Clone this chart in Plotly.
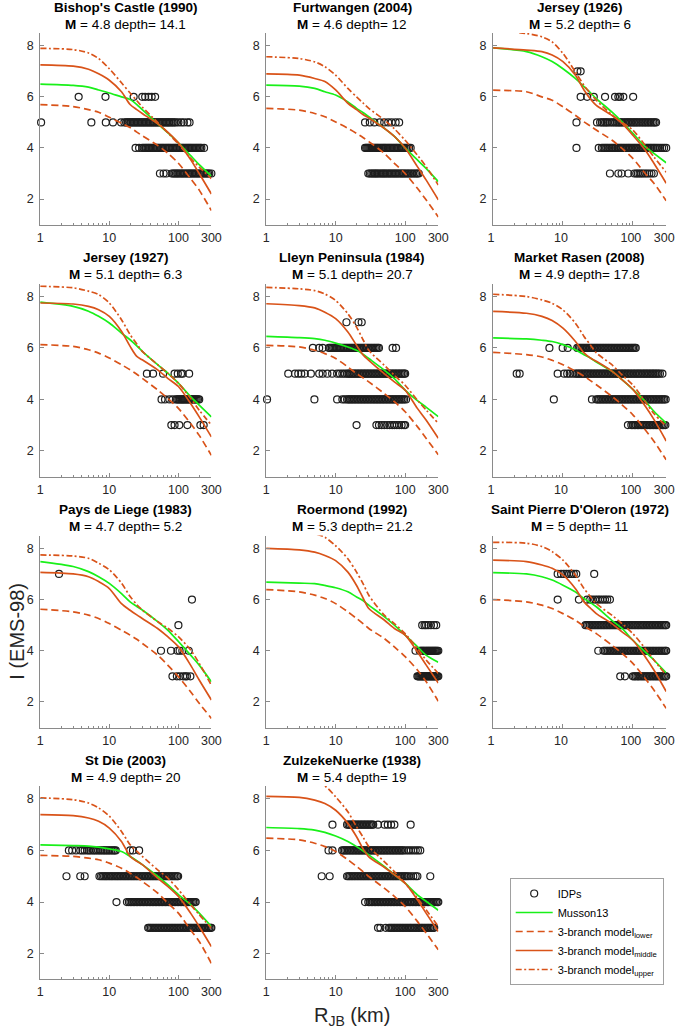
import math
import plotly.graph_objects as go

W, H = 685, 1032

# ---------------- data ----------------
R_GRID = [1, 3, 5, 7, 10, 15, 20, 25, 30, 50, 70, 100, 150, 200, 300]

TITLES = ["Bishop's Castle (1990)", "Furtwangen (2004)", "Jersey (1926)",
          "Jersey (1927)", "Lleyn Peninsula (1984)", "Market Rasen (2008)",
          "Pays de Liege (1983)", "Roermond (1992)", "Saint Pierre D'Oleron (1972)",
          "St Die (2003)", "ZulzekeNuerke (1938)"]
MAGS = ["4.8", "4.6", "5.2", "5.1", "5.1", "4.9", "4.7", "5.3", "5", "4.9", "5.4"]
DEPTHS = ["14.1", "12", "6", "6.3", "20.7", "17.8", "5.2", "21.2", "11", "20", "19"]

musson_1 = [6.5, 6.45, 6.38, 6.27, 6.15, 6.0, 5.9, 5.7, 5.5, 4.95, 4.6, 4.2, 3.7, 3.35, 2.9]
lower_1 = [5.7, 5.62, 5.5, 5.4, 5.2, 4.97, 4.8, 4.62, 4.48, 4.1, 3.8, 3.4, 2.8, 2.35, 1.55]
middle_1 = [7.25, 7.2, 7.08, 6.9, 6.65, 6.2, 5.7, 5.5, 5.35, 4.95, 4.62, 4.2, 3.55, 3.0, 2.2]
upper_1 = [7.9, 7.85, 7.72, 7.5, 7.1, 6.55, 6.15, 5.85, 5.6, 5.0, 4.6, 4.15, 3.6, 3.25, 2.8]

musson_2 = [6.46, 6.42, 6.33, 6.2, 6.07, 5.8, 5.55, 5.38, 5.22, 4.77, 4.45, 4.0, 3.53, 3.2, 2.68]
lower_2 = [5.55, 5.48, 5.35, 5.22, 5.02, 4.77, 4.57, 4.4, 4.25, 3.79, 3.4, 3.0, 2.42, 1.97, 1.3]
middle_2 = [6.9, 6.85, 6.72, 6.6, 6.27, 5.75, 5.5, 5.3, 5.17, 4.77, 4.45, 4.0, 3.27, 2.75, 1.97]
upper_2 = [7.57, 7.5, 7.37, 7.18, 6.85, 6.33, 6.0, 5.75, 5.55, 5.1, 4.75, 4.3, 3.72, 3.27, 2.55]

musson_3 = [7.92, 7.77, 7.57, 7.38, 7.1, 6.72, 6.4, 6.15, 5.93, 5.41, 5.02, 4.57, 4.05, 3.79, 3.42]
lower_3 = [6.26, 6.2, 6.0, 5.87, 5.61, 5.28, 5.02, 4.85, 4.7, 4.31, 3.98, 3.59, 3.0, 2.62, 1.93]
middle_3 = [7.92, 7.83, 7.77, 7.64, 7.38, 6.86, 6.27, 5.9, 5.67, 5.28, 4.96, 4.5, 3.92, 3.4, 2.62]
upper_3 = [8.62, 8.48, 8.35, 8.15, 7.7, 6.98, 6.45, 6.12, 5.87, 5.3, 5.0, 4.7, 4.1, 3.65, 3.05]

musson_4 = [7.78, 7.62, 7.43, 7.23, 6.97, 6.58, 6.32, 6.08, 5.87, 5.35, 5.02, 4.63, 4.11, 3.78, 3.32]
lower_4 = [6.13, 6.06, 5.93, 5.8, 5.61, 5.35, 5.15, 4.98, 4.82, 4.37, 4.04, 3.65, 3.06, 2.6, 1.82]
middle_4 = [7.75, 7.71, 7.62, 7.49, 7.23, 6.65, 6.06, 5.67, 5.54, 5.15, 4.82, 4.5, 3.84, 3.32, 2.54]
upper_4 = [8.4, 8.34, 8.21, 8.08, 7.75, 7.1, 6.52, 6.15, 5.87, 5.35, 5.02, 4.63, 4.04, 3.58, 3.0]

musson_5 = [6.45, 6.4, 6.36, 6.3, 6.19, 6.04, 5.91, 5.75, 5.59, 5.14, 4.81, 4.36, 3.95, 3.7, 3.33]
lower_5 = [6.1, 6.04, 5.91, 5.78, 5.59, 5.26, 5.0, 4.83, 4.68, 4.23, 3.91, 3.52, 2.94, 2.49, 1.85]
middle_5 = [7.72, 7.65, 7.56, 7.39, 7.14, 6.62, 6.1, 5.72, 5.52, 5.0, 4.68, 4.36, 3.65, 3.2, 2.49]
upper_5 = [8.36, 8.3, 8.23, 8.1, 7.85, 7.33, 6.81, 6.3, 5.91, 5.33, 4.94, 4.55, 3.97, 3.59, 3.07]

musson_6 = [6.39, 6.35, 6.3, 6.25, 6.13, 5.93, 5.74, 5.6, 5.45, 5.1, 4.77, 4.39, 3.93, 3.54, 3.08]
lower_6 = [5.83, 5.74, 5.65, 5.52, 5.35, 5.1, 4.9, 4.72, 4.57, 4.12, 3.79, 3.4, 2.82, 2.37, 1.65]
middle_6 = [7.42, 7.35, 7.23, 7.07, 6.77, 6.26, 5.81, 5.6, 5.48, 5.1, 4.77, 4.39, 3.74, 3.22, 2.38]
upper_6 = [8.09, 8.0, 7.87, 7.74, 7.48, 6.97, 6.45, 6.1, 5.81, 5.35, 4.95, 4.56, 3.91, 3.45, 2.95]

musson_7 = [7.48, 7.29, 7.09, 6.89, 6.63, 6.23, 5.91, 5.73, 5.59, 5.14, 4.81, 4.36, 3.83, 3.44, 2.79]
lower_7 = [5.62, 5.52, 5.39, 5.26, 5.06, 4.8, 4.61, 4.45, 4.29, 3.83, 3.44, 2.99, 2.4, 1.95, 1.36]
middle_7 = [7.06, 7.0, 6.89, 6.7, 6.43, 5.84, 5.58, 5.4, 5.26, 4.87, 4.55, 4.16, 3.44, 2.86, 2.08]
upper_7 = [7.74, 7.7, 7.61, 7.42, 7.16, 6.64, 6.12, 5.8, 5.59, 5.14, 4.88, 4.55, 4.03, 3.51, 2.65]

musson_8 = [6.68, 6.64, 6.62, 6.55, 6.46, 6.3, 6.1, 5.95, 5.78, 5.33, 5.0, 4.61, 4.16, 3.83, 3.55]
lower_8 = [6.39, 6.3, 6.17, 6.04, 5.84, 5.52, 5.26, 5.05, 4.87, 4.48, 4.15, 3.77, 3.25, 2.8, 2.03]
middle_8 = [8.0, 7.94, 7.85, 7.72, 7.52, 7.07, 6.55, 6.04, 5.65, 5.2, 4.87, 4.61, 3.96, 3.45, 2.74]
upper_8 = [8.9, 8.78, 8.58, 8.43, 8.1, 7.59, 7.07, 6.6, 6.17, 5.39, 5.06, 4.67, 4.09, 3.64, 3.12]

musson_9 = [7.05, 7.0, 6.89, 6.76, 6.56, 6.3, 6.04, 5.87, 5.72, 5.19, 4.87, 4.41, 3.96, 3.64, 3.14]
lower_9 = [6.0, 5.91, 5.78, 5.65, 5.45, 5.19, 4.96, 4.8, 4.67, 4.22, 3.9, 3.51, 2.92, 2.47, 1.75]
middle_9 = [7.54, 7.48, 7.35, 7.22, 6.96, 6.43, 5.91, 5.65, 5.45, 5.06, 4.74, 4.41, 3.77, 3.25, 2.41]
upper_9 = [8.23, 8.2, 8.07, 7.87, 7.54, 6.96, 6.43, 6.1, 5.84, 5.39, 5.06, 4.67, 4.09, 3.64, 3.05]

musson_10 = [6.22, 6.19, 6.17, 6.13, 6.06, 5.96, 5.77, 5.6, 5.45, 5.0, 4.67, 4.29, 3.9, 3.57, 3.05]
lower_10 = [5.81, 5.77, 5.7, 5.64, 5.51, 5.31, 5.12, 4.95, 4.8, 4.35, 3.96, 3.57, 2.92, 2.47, 1.62]
middle_10 = [7.39, 7.35, 7.26, 7.13, 6.87, 6.35, 5.77, 5.58, 5.45, 4.93, 4.61, 4.22, 3.57, 3.05, 2.27]
upper_10 = [8.04, 7.97, 7.84, 7.65, 7.33, 6.74, 6.22, 5.97, 5.77, 5.25, 4.93, 4.48, 3.9, 3.51, 2.99]

musson_11 = [6.89, 6.85, 6.79, 6.7, 6.56, 6.35, 6.15, 5.98, 5.83, 5.38, 5.06, 4.73, 4.28, 4.03, 3.68]
lower_11 = [6.48, 6.41, 6.28, 6.15, 5.96, 5.64, 5.38, 5.17, 4.99, 4.54, 4.22, 3.83, 3.25, 2.8, 2.15]
middle_11 = [8.1, 8.06, 7.95, 7.82, 7.56, 7.05, 6.53, 6.05, 5.75, 5.35, 5.06, 4.73, 4.09, 3.57, 2.86]
upper_11 = [9.0, 8.8, 8.65, 8.5, 8.08, 7.5, 6.92, 6.5, 6.15, 5.57, 5.18, 4.73, 4.15, 3.7, 3.06]

# IDPs: (intensity, [R_JB distances in km])
idp_1 = [
    (6, [3.6, 8.8, 22.5, 30, 33, 37, 41, 46]),
    (5, [1.03, 5.5, 8.9, 11.3, 14.8, 16.5, 17.5, 18.3, 19.1, 20, 20.9, 21.8, 22.8, 23.8, 24.9, 26,
         27.2, 28.4, 29.7, 31, 32.4, 33.9, 35.4, 37, 38.7, 40.4, 42.2, 44.1, 46.1, 48.2, 50.4, 52.7,
         55, 57.5, 60, 63, 66, 69, 72, 75, 79, 83, 87, 92, 100, 110, 120, 135, 145]),
    (4, [24, 27, 30, 31.5, 33, 34.5, 36, 37.5, 39, 41, 43, 45, 47, 49, 51, 53.5, 56, 58.5, 61, 64,
         67, 70, 73, 76, 80, 84, 88, 92, 96, 100, 105, 110, 115, 120, 126, 132, 138, 144, 150, 157,
         164, 172, 180, 188, 197, 206, 215, 235]),
    (3, [54, 61, 67, 80, 84, 88, 92, 96, 100, 105, 110, 115, 120, 126, 132, 138, 144, 150, 157, 164,
         172, 180, 188, 197, 206, 215, 225, 235, 246, 257, 269, 280, 300]),
]
idp_2 = [
    (5, [26.5, 31, 36, 43, 50, 57, 64, 73, 82]),
    (4, [26.5, 27.5, 28.5, 29.5, 30.5, 31.5, 32.5, 33.5, 35, 36.5, 38, 39.5, 41, 43, 45, 47, 49, 51,
         53, 55.5, 58, 60.5, 63, 66, 69, 72, 75, 78, 82, 86, 90, 94, 98, 103, 108, 114, 120]),
    (3, [29.5, 31, 32.5, 34, 35.5, 37, 38.5, 40, 42, 44, 46, 48, 50, 52, 54.5, 57, 59.5, 62, 65, 68,
         71, 74, 77.5, 81, 85, 89, 93, 97, 102, 107, 112, 118, 124, 130, 137, 144, 150, 157]),
]
idp_3 = [
    (7, [16.1, 17.9]),
    (6, [17.9, 22.2, 27.6, 40, 55.6, 62, 65.5, 73, 101]),
    (5, [15.6, 30.7, 34, 36, 38, 40, 42, 44, 47, 50, 53, 56, 59, 62, 65, 68, 72, 76, 80, 84, 88, 92,
         97, 102, 107, 112, 118, 124, 131, 138, 145, 152, 160, 168, 177, 186, 196, 206, 215]),
    (4, [15.6, 32.5, 36, 38, 40, 42, 44, 46.5, 49, 51.5, 54, 57, 60, 63, 66, 69, 72.5, 76, 80, 84,
         88, 92, 97, 102, 107, 112, 118, 124, 131, 138, 145, 152, 160, 168, 177, 186, 196, 206, 217,
         230, 245, 262, 280, 300]),
    (3, [47, 62, 69, 86, 105, 112, 118, 125, 132, 140, 150, 160, 172, 185, 200]),
]
idp_4 = [
    (5, [35, 43, 60, 88, 98, 109, 115, 143]),
    (4, [57, 64, 74, 83, 92, 96, 100, 104, 108, 112, 116, 120, 125, 130, 135, 140, 146, 152, 158,
         164, 170, 177, 184, 192, 200]),
    (3, [79, 88, 103, 135, 208, 232]),
]
idp_5 = [
    (7, [14.3, 21.3, 23.7]),
    (6, [4.7, 5.8, 6.5, 8, 8.4, 8.8, 9.2, 9.6, 10, 10.5, 11, 11.5, 12, 12.6, 13.2, 13.8, 14.5, 15.2,
         16, 16.8, 17.6, 18.5, 19.4, 20.4, 21.4, 22.5, 23.6, 24.8, 26, 27.3, 28.7, 30.1, 31.6, 33.2,
         34.9, 36.6, 38.4, 40.3, 42, 66, 74]),
    (5, [2.08, 2.6, 2.9, 3.2, 3.6, 4.4, 5.8, 6.5, 7.6, 8.9, 10.5, 11.5, 12.5, 13.5, 14.6, 15.3, 16,
         16.8, 17.6, 18.5, 19.4, 20.4, 21.4, 22.5, 23.6, 24.8, 26, 27.3, 28.7, 30.1, 31.6, 33.2, 34.9,
         36.6, 38.4, 40.3, 42.3, 44.4, 46.6, 48.9, 51.3, 53.9, 56.6, 59.4, 62.4, 65.5, 68.8, 72.2,
         75.8, 79.6, 83.6, 87.8, 92.2, 96.8, 100]),
    (4, [1.03, 4.95, 10.5, 12.5, 13.5, 14.6, 15.3, 16, 16.8, 17.6, 18.5, 19.4, 20.4, 21.4, 22.5,
         23.6, 24.8, 26, 27.3, 28.7, 30.1, 31.6, 33.2, 34.9, 36.6, 38.4, 40.3, 42.3, 44.4, 46.6,
         48.9, 51.3, 53.9, 56.6, 59.4, 62.4, 65.5, 68.8, 72.2, 75.8, 79.6, 83.6, 87.8, 92.2, 96.8,
         103]),
    (3, [20, 38.6, 42, 46, 50, 55, 60, 65, 70, 76, 82, 89, 96, 100]),
]
idp_6 = [
    (6, [6.4, 9.9, 11.7, 16, 16.8, 17.6, 18.5, 19.4, 20.4, 21.4, 22.5, 23.6, 24.8, 26, 27.3, 28.7,
         30.1, 31.6, 33.2, 34.9, 36.6, 38.4, 40.3, 42.3, 44.4, 46.6, 48.9, 51.3, 53.9, 56.6, 59.4,
         62.4, 65.5, 68.8, 72.2, 75.8, 79.6, 83.6, 87.8, 92.2, 96.8, 101, 106, 110]),
    (5, [2.18, 2.4, 8.4, 10.4, 11.5, 12.5, 13.7, 15, 15.8, 16.6, 17.4, 18.3, 19.2, 20.2, 21.2, 22.2,
         23.3, 24.5, 25.7, 27, 28.4, 29.8, 31.3, 32.8, 34.5, 36.2, 38, 39.9, 41.9, 44, 46.2, 48.5,
         50.9, 53.5, 56.1, 58.9, 61.9, 65, 68.2, 71.6, 75.2, 79, 82.9, 87.1, 91.4, 96, 101, 106,
         111, 117, 122, 128, 135, 142, 149, 156, 164, 172, 181, 190, 199, 209, 220, 231, 244, 265]),
    (4, [7.4, 26, 30, 31.5, 33, 34.6, 36.3, 38.1, 40, 42, 44.1, 46.3, 48.6, 51, 53.6, 56.3, 59.1,
         62.1, 65.2, 68.4, 71.8, 75.4, 79.2, 83.2, 87.3, 91.7, 96.3, 101, 106, 111, 117, 123, 129,
         135, 142, 149, 157, 164, 173, 181, 190, 200, 210, 220, 231, 243, 255, 268, 281, 295]),
    (3, [85, 95, 100, 105, 110, 116, 121, 127, 134, 140, 147, 155, 162, 171, 179, 188, 198, 208,
         218, 229, 240, 252, 265, 278, 292]),
]
idp_7 = [
    (7, [1.87]),
    (6, [157]),
    (5, [100]),
    (4, [56, 78, 97, 104, 114, 141]),
    (3, [82, 95, 105, 117, 126, 133, 149]),
]
idp_8 = [
    (5, [176, 190, 200, 215, 235, 260, 280]),
    (4, [141, 162, 167, 172, 177, 182, 187, 193, 199, 205, 211, 217, 223, 230, 237, 244, 251, 258,
         266, 273, 281, 290, 300]),
    (3, [150, 155, 160, 165, 170, 175, 180, 185, 191, 196, 202, 208, 214, 220, 227, 233, 240, 247,
         254, 261, 269, 277, 285, 292, 300]),
]
idp_9 = [
    (7, [8.4, 9.4, 10.3, 11.2, 12.2, 13.2, 14.3, 15.5, 28]),
    (6, [8.4, 16.9, 22.2, 24.5, 26.5, 29, 31.5, 34, 37, 40, 43, 47]),
    (5, [21, 22, 23.1, 24.3, 25.5, 26.8, 28.1, 29.5, 31, 32.5, 34.2, 35.9, 37.7, 39.5, 41.5, 43.6,
         45.8, 48, 50.4, 53, 55.6, 58.4, 61.3, 64.4, 67.6, 71, 74.5, 78.3, 82.2, 86.3, 90.6, 95.1,
         99.9, 105, 110, 116, 121, 127, 134, 140, 147, 155, 163, 171, 179, 188, 198, 208, 218, 229,
         240, 252, 265, 278, 292, 300]),
    (4, [32, 38, 39.9, 41.9, 44, 46.2, 48.5, 50.9, 53.5, 56.1, 58.9, 61.9, 65, 68.2, 71.6, 75.2, 79,
         82.9, 87.1, 91.4, 96, 101, 106, 111, 117, 122, 128, 135, 142, 149, 156, 164, 172, 181, 190,
         199, 209, 220, 231, 242, 254, 267, 280, 294, 300]),
    (3, [66, 77, 100, 105, 110, 116, 121, 127, 134, 140, 147, 155, 162, 171, 179, 188, 198, 208, 218,
         229, 240, 252, 265, 278, 292, 300]),
]
idp_10 = [
    (6, [2.6, 2.9, 3.3, 3.8, 4.1, 4.4, 4.8, 5.1, 5.4, 5.8, 6.1, 6.5, 6.9, 7.3, 7.7, 8.2, 8.6, 9.1,
         9.6, 10.1, 10.7, 11.3, 11.9, 12.4, 20, 22, 27]),
    (5, [2.4, 3.8, 4.4, 7.2, 7.6, 8, 8.4, 8.8, 9.2, 9.7, 10.2, 10.7, 11.2, 11.8, 12.4, 13, 13.6,
         14.3, 15, 15.8, 16.6, 17.4, 18.3, 19.2, 20.2, 21.2, 22.2, 23.3, 24.5, 25.7, 27, 28.4, 29.8,
         31.3, 32.8, 34.5, 36.2, 38, 39.9, 41.9, 44, 46.2, 48.5, 50.9, 53.5, 56.1, 58.9, 61.9, 65,
         68.2, 71.6, 75.2, 79, 82.9, 87.1, 91.4, 96, 99]),
    (4, [12.7, 18, 19.2, 20.2, 21.2, 22.2, 23.3, 24.5, 25.7, 27, 28.4, 29.8, 31.3, 32.8, 34.5, 36.2,
         38, 39.9, 41.9, 44, 46.2, 48.5, 50.9, 53.5, 56.1, 58.9, 61.9, 65, 68.2, 71.6, 75.2, 79,
         82.9, 87.1, 91.4, 96, 101, 106, 111, 117, 122, 128, 135, 142, 149, 156, 164, 172, 178]),
    (3, [36.5, 38, 39.9, 41.9, 44, 46.2, 48.5, 50.9, 53.5, 56.1, 58.9, 61.9, 65, 68.2, 71.6, 75.2,
         79, 82.9, 87.1, 91.4, 96, 101, 106, 111, 117, 122, 128, 135, 142, 149, 156, 164, 172, 181,
         190, 199, 209, 220, 231, 242, 254, 267, 280, 294, 300]),
]
idp_11 = [
    (7, [9, 14.6, 15.3, 16, 16.8, 17.6, 18.5, 19.4, 20.4, 21.4, 22.5, 23.6, 24.8, 26, 27.3, 28.7,
         30.1, 31.6, 33.2, 34.7, 40.7, 50.6, 56.3, 62.8, 70, 120]),
    (6, [7.9, 9, 12.4, 13, 13.6, 14.3, 15, 15.8, 16.6, 17.4, 18.3, 19.2, 20.2, 21.2, 22.2, 23.3,
         24.5, 25.7, 27, 28.4, 29.8, 31.3, 32.8, 34.5, 36.2, 38, 39.9, 41.9, 44, 46.2, 48.5, 50.9,
         53.5, 56.1, 58.9, 61.9, 65, 68.2, 71.6, 75.2, 79, 82.9, 87.1, 91.4, 96, 104, 112, 121, 131,
         142, 153, 165]),
    (5, [6.3, 8.2, 14.6, 15.3, 16, 16.8, 17.6, 18.5, 19.4, 20.4, 21.4, 22.5, 23.6, 24.8, 26, 27.3,
         28.7, 30.1, 31.6, 33.2, 34.9, 36.6, 38.4, 40.3, 42.3, 44.4, 46.6, 48.9, 51.3, 53.9, 56.6,
         59.4, 62.4, 65.5, 68.8, 72.2, 75.8, 79.6, 83.6, 87.8, 92.2, 96.8, 101, 106, 112, 121, 131,
         142, 150, 230]),
    (4, [26.5, 29.5, 31, 32.5, 34.2, 35.9, 37.7, 39.5, 41.5, 43.6, 45.8, 48, 50.4, 53, 55.6, 58.4,
         61.3, 64.4, 67.6, 71, 74.5, 78.3, 82.2, 86.3, 90.6, 95.1, 99.9, 105, 110, 116, 121, 127,
         134, 140, 147, 155, 163, 171, 179, 188, 198, 208, 218, 229, 240, 252, 265, 278, 292, 300]),
    (3, [40.7, 44, 52.6, 58.5, 61.3, 64.4, 67.6, 71, 74.5, 78.3, 82.2, 86.3, 90.6, 95.1, 99.9, 105,
         110, 116, 121, 127, 134, 140, 147, 155, 163, 171, 179, 188, 198, 208, 218, 229, 240, 252,
         262]),
]

MUSSON = [musson_1, musson_2, musson_3, musson_4, musson_5, musson_6, musson_7, musson_8,
          musson_9, musson_10, musson_11]
LOWER = [lower_1, lower_2, lower_3, lower_4, lower_5, lower_6, lower_7, lower_8, lower_9,
         lower_10, lower_11]
MIDDLE = [middle_1, middle_2, middle_3, middle_4, middle_5, middle_6, middle_7, middle_8,
          middle_9, middle_10, middle_11]
UPPER = [upper_1, upper_2, upper_3, upper_4, upper_5, upper_6, upper_7, upper_8, upper_9,
         upper_10, upper_11]
IDPS = [idp_1, idp_2, idp_3, idp_4, idp_5, idp_6, idp_7, idp_8, idp_9, idp_10, idp_11]

X_TICKS = [1, 10, 100, 300]
X_MINOR = [2, 3, 4, 5, 6, 7, 8, 9, 20, 30, 40, 50, 60, 70, 80, 90, 200]
Y_TICKS = [2, 4, 6, 8]

# ---------------- style / geometry ----------------
FONT = "Liberation Sans, Arial, Helvetica, sans-serif"
GREEN = "#19f019"
ORANGE = "#D95319"
AXIS_COLOR = "#8a8a8a"
TICK_FONT_COLOR = "#262626"

COLS_PX = [(36, 211), (267, 443), (499, 676)]
ROWS_PX = [(33, 224.6), (283.7, 476.5), (535.5, 727.6), (786, 979.4)]

fig = go.Figure()
layout = {}

for i in range(11):
    r, c = divmod(i, 3)
    sfx = "" if i == 0 else str(i + 1)
    xref, yref = "x" + sfx, "y" + sfx
    first = (i == 0)

    xs, ys = [], []
    for inten, dists in IDPS[i]:
        for d in dists:
            xs.append(d)
            ys.append(inten)
    fig.add_trace(go.Scatter(
        x=xs, y=ys, mode="markers", name="IDPs", legendgroup="idp", showlegend=first,
        marker=dict(symbol="circle-open", size=7, color="#1e1e1e", line=dict(width=1.2)),
        cliponaxis=False, xaxis=xref, yaxis=yref))
    specs = [
        (MUSSON[i], "Musson13", GREEN, "solid", "mus"),
        (LOWER[i], "3-branch model<sub>lower</sub>", ORANGE, "7px,4px", "low"),
        (MIDDLE[i], "3-branch model<sub>middle</sub>", ORANGE, "solid", "mid"),
        (UPPER[i], "3-branch model<sub>upper</sub>", ORANGE, "6px,2.5px,2px,2.5px", "up"),
    ]
    for vals, name, col, dash, grp in specs:
        fig.add_trace(go.Scatter(
            x=R_GRID, y=vals, mode="lines", name=name, legendgroup=grp, showlegend=first,
            line=dict(color=col, width=1.7, dash=dash, shape="spline", smoothing=0.8),
            xaxis=xref, yaxis=yref))

    x0, x1 = COLS_PX[c]
    y0, y1 = ROWS_PX[r]
    layout["xaxis" + sfx] = dict(
        type="log", range=[0, math.log10(300)], domain=[x0 / W, x1 / W], anchor=yref,
        tickmode="array", tickvals=X_TICKS, ticktext=[str(v) for v in X_TICKS],
        ticks="inside", ticklen=4, tickcolor=AXIS_COLOR, showline=True, linecolor=AXIS_COLOR,
        linewidth=1, showgrid=False, zeroline=False,
        minor=dict(tickmode="array", tickvals=X_MINOR, ticks="inside", ticklen=2,
                   tickcolor=AXIS_COLOR, showgrid=False),
        tickfont=dict(family=FONT, size=12.5, color=TICK_FONT_COLOR),
        ticklabelstandoff=1, ticklabelshift=(-2 if c == 2 else 0))
    layout["yaxis" + sfx] = dict(
        range=[1, 8.5], domain=[1 - y1 / H, 1 - y0 / H], anchor=xref,
        tickmode="array", tickvals=Y_TICKS, ticks="inside", ticklen=4, tickcolor=AXIS_COLOR,
        showline=True, linecolor=AXIS_COLOR, linewidth=1, showgrid=False, zeroline=False,
        tickfont=dict(family=FONT, size=12.5, color=TICK_FONT_COLOR),
        ticklabelstandoff=3)

annotations = []
for i in range(11):
    r, c = divmod(i, 3)
    cx = (COLS_PX[c][0] + COLS_PX[c][1]) / 2 / W
    top = ROWS_PX[r][0]
    annotations.append(dict(
        x=cx, y=1 - (top - 26) / H, xref="paper", yref="paper", showarrow=False,
        xanchor="center", yanchor="middle", text="<b>" + TITLES[i] + "</b>",
        font=dict(family=FONT, size=13.5, color="#000000")))
    annotations.append(dict(
        x=cx, y=1 - (top - 9) / H, xref="paper", yref="paper", showarrow=False,
        xanchor="center", yanchor="middle",
        text="<b>M</b> = " + MAGS[i] + " depth= " + DEPTHS[i],
        font=dict(family=FONT, size=13.5, color="#000000")))

annotations.append(dict(
    x=12 / W, y=1 - 631 / H, xref="paper", yref="paper", showarrow=False,
    xanchor="center", yanchor="middle", textangle=-90, text="I (EMS-98)",
    font=dict(family=FONT, size=20, color=TICK_FONT_COLOR)))
annotations.append(dict(
    x=355 / W, y=1 - 1031 / H, xref="paper", yref="paper", showarrow=False,
    xanchor="center", yanchor="bottom", text="R<sub>JB</sub> (km)",
    font=dict(family=FONT, size=20, color=TICK_FONT_COLOR)))

fig.update_layout(
    width=W, height=H, autosize=False,
    margin=dict(l=0, r=0, t=0, b=0),
    paper_bgcolor="white", plot_bgcolor="white",
    font=dict(family=FONT, color=TICK_FONT_COLOR),
    annotations=annotations,
    legend=dict(x=516 / W, y=1 - 878 / H, xanchor="left", yanchor="top",
                bgcolor="white", bordercolor="#a0a0a0", borderwidth=1,
                font=dict(family=FONT, size=11, color="#000000"),
                itemwidth=37, tracegroupgap=0),
    **layout)

# remove the browser's default 8px page margin so the figure sits at (0, 0)
fig.write_html("out.html", config={"displayModeBar": False},
               post_script="document.body.style.margin='0';document.body.style.overflow='hidden';")
